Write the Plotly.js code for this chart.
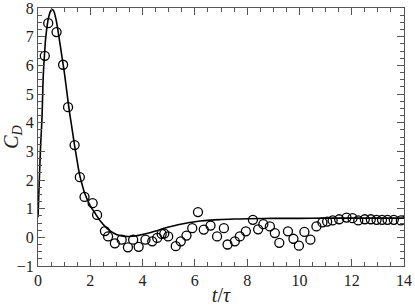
<!DOCTYPE html>
<html>
<head>
<meta charset="utf-8">
<script src="https://cdn.plot.ly/plotly-3.0.1.min.js"></script>
<style>html,body{margin:0;padding:0;background:#fff;}#chart{width:415px;height:306px;}</style>
</head>
<body>
<div id="chart"></div>
<script>
// Simulation curve
const lineT = [0,0.05,0.1,0.15,0.2,0.25,0.3,0.4,0.5,0.55,0.6,0.7,0.8,0.9,1.0,1.1,1.2,1.3,1.4,1.5,1.6,1.7,1.8,2.0,2.2,2.4,2.6,2.8,3.0,3.2,3.5,3.8,4.2,4.6,5.0,5.4,5.8,6.2,6.6,7.0,7.5,8.0,9.0,10,11,12,13,14];
const lineCD = [0.7,2.0,3.2,4.1,5.6,6.4,7.0,7.65,7.92,7.95,7.9,7.55,7.0,6.4,5.8,5.1,4.4,3.8,3.2,2.65,2.15,1.8,1.5,1.1,0.82,0.55,0.35,0.2,0.1,0.05,0.03,0.06,0.14,0.25,0.36,0.45,0.52,0.57,0.6,0.62,0.64,0.65,0.66,0.66,0.67,0.67,0.67,0.67];
// Experimental points
const ptT = [0.26,0.39,0.71,0.96,1.15,1.40,1.60,1.78,2.09,2.26,2.56,2.68,2.94,3.20,3.44,3.64,3.85,4.11,4.37,4.56,4.73,4.83,4.98,5.27,5.46,5.68,5.90,6.12,6.34,6.60,6.85,7.11,7.25,7.53,7.72,7.95,8.22,8.42,8.62,8.87,9.06,9.23,9.56,9.77,9.98,10.19,10.42,10.65,10.88,11.06,11.27,11.52,11.80,12.03,12.25,12.50,12.73,12.95,13.16,13.37,13.61,13.88];
const ptCD = [6.33,7.47,7.16,6.02,4.54,3.22,2.10,1.41,1.19,0.78,0.22,0.03,-0.21,-0.08,-0.35,-0.08,-0.33,-0.08,-0.14,-0.02,0.12,0.13,0.03,-0.31,-0.14,0.06,0.32,0.88,0.27,0.41,0.03,0.32,-0.25,-0.14,0.03,0.21,0.61,0.28,0.46,0.38,0.15,-0.19,0.21,-0.05,-0.29,0.19,-0.08,0.38,0.52,0.55,0.59,0.63,0.69,0.67,0.59,0.63,0.63,0.61,0.61,0.61,0.61,0.59];

const FAM = 'Liberation Serif';
const tickFont = {family: FAM, size: 16, color: '#222'};
const titleFont = {family: FAM, size: 20, color: '#222'};
const axisBase = {
  showgrid: false, zeroline: false, showline: true, mirror: 'ticks',
  linecolor: '#555', linewidth: 1, ticks: 'inside', ticklen: 7, tickwidth: 1, tickcolor: '#555',
  tickfont: tickFont, ticklabeloverflow: 'allow'
};
const data = [
  {x: lineT, y: lineCD, mode: 'lines', line: {color: '#000', width: 1.6, shape: 'spline'}, hoverinfo: 'skip'},
  {x: ptT, y: ptCD, mode: 'markers', marker: {symbol: 'circle-open', size: 9, color: '#000', line: {width: 1.3, color: '#000'}}}
];
const layout = {
  width: 415, height: 306,
  margin: {l: 38, r: 11, t: 8, b: 40},
  paper_bgcolor: '#fff', plot_bgcolor: '#fff',
  showlegend: false,
  font: tickFont,
  xaxis: Object.assign({}, axisBase, {
    range: [0, 14], dtick: 2, tick0: 0,
    minor: {dtick: 0.5, ticklen: 4, tickcolor: '#555', ticks: 'inside'},
    title: {text: '<i>t</i>/<i>τ</i>', font: titleFont, standoff: 2}
  }),
  yaxis: Object.assign({}, axisBase, {
    range: [-1, 8], dtick: 1, tick0: 0,
    minor: {dtick: 0.25, ticklen: 4, tickcolor: '#555', ticks: 'inside'},
    title: {text: '<i>C</i><sub><i>D</i></sub>', font: titleFont, standoff: 4}
  })
};
Plotly.newPlot('chart', data, layout, {displayModeBar: false, staticPlot: true});
</script>
</body>
</html>
